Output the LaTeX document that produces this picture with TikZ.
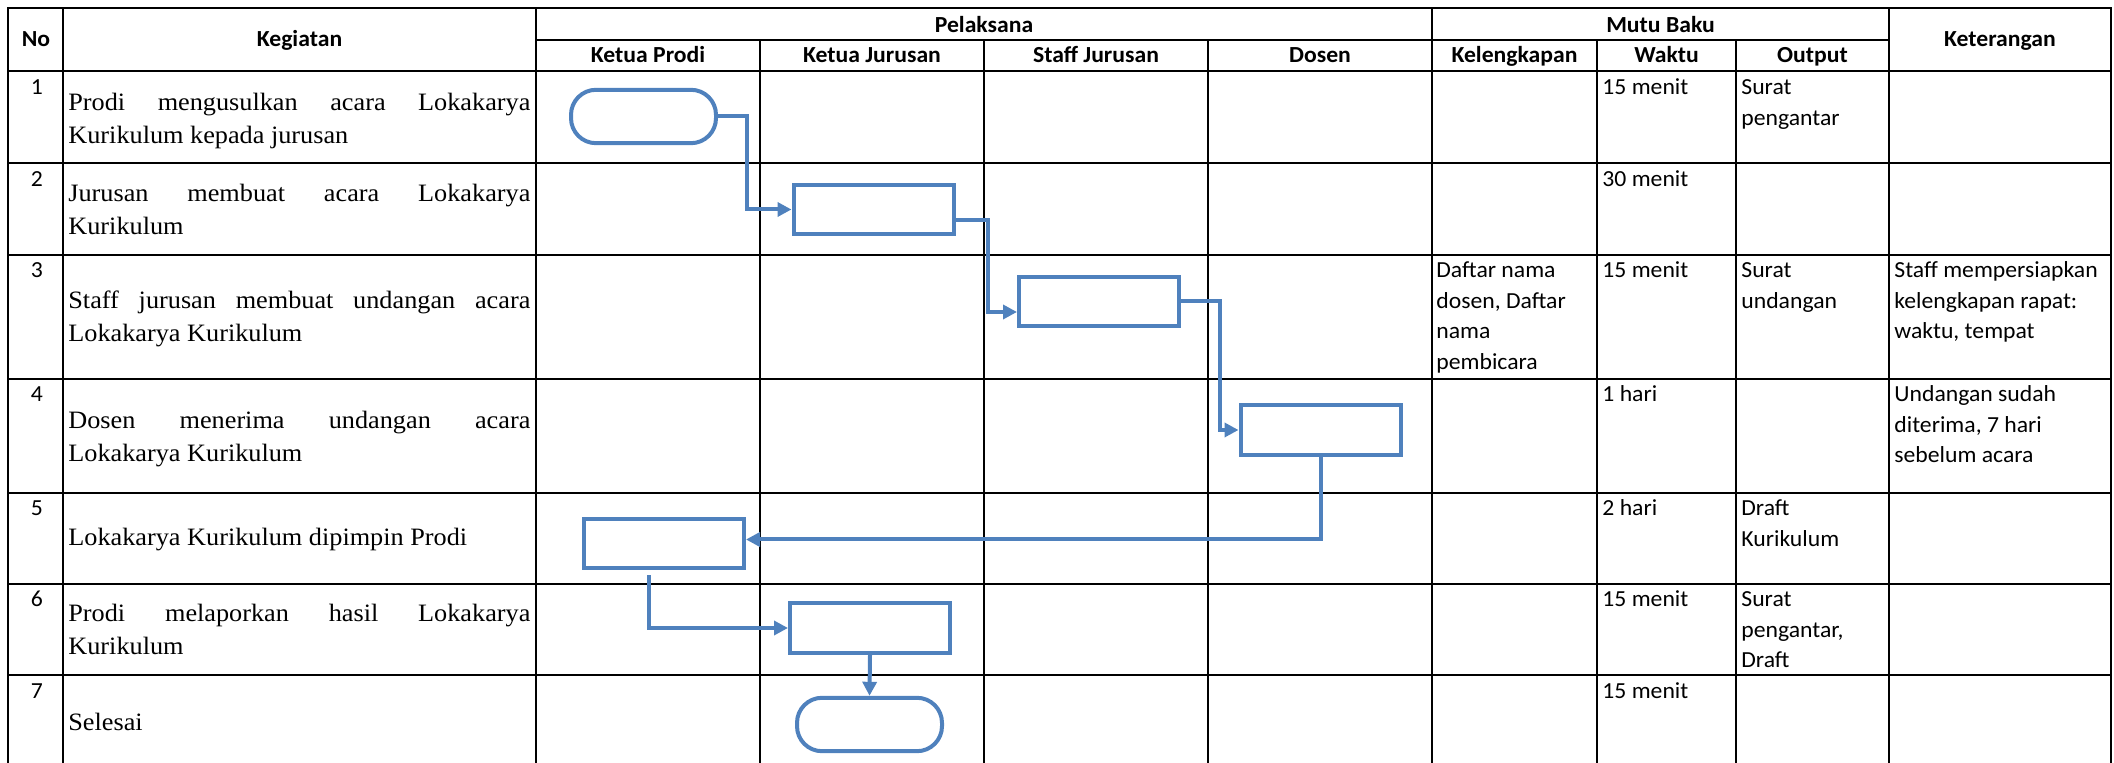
\documentclass[tikz,border=0pt]{standalone}
\usepackage{fontspec}
\setmainfont{Liberation Serif}[FakeStretch=1.05]
\newfontfamily\calib{Carlito}[FakeStretch=1.03]
\usetikzlibrary{arrows.meta}
\definecolor{flowblue}{HTML}{4F81BD}
\newcommand\jline[1]{\hbox to 231pt{#1}}
\newcommand\stk[1]{\vtop{\baselineskip=15.25pt\lineskiplimit=-20pt\halign{##\hfil\cr#1\crcr}}}
\newcommand\ser[1]{\vtop{\baselineskip=16.25pt\lineskiplimit=-20pt #1}}
\begin{document}
\begin{tikzpicture}[x=0.5pt,y=-0.5pt,
  tbl/.style={line width=1.3pt,line cap=rect},
  hd/.style={font=\calib\bfseries\fontsize{11.5}{13}\selectfont,anchor=base,inner sep=0},
  num/.style={font=\calib\fontsize{11.5}{13}\selectfont,anchor=base,inner sep=0},
  cell/.style={font=\calib\fontsize{11.5}{15.25}\selectfont,anchor=base west,inner sep=0},
  kg/.style={font=\fontsize{12.5}{16}\selectfont,anchor=base west,inner sep=0},
  term/.style={draw=flowblue,fill=white,line width=2pt,rounded corners=12.5pt,minimum width=72.5pt,minimum height=26.7pt,inner sep=0},
  proc/.style={draw=flowblue,fill=white,line width=2pt,minimum width=80pt,minimum height=24.7pt,inner sep=0},
  flow/.style={draw=flowblue,line width=2pt,-{Triangle[length=7pt,width=7pt]}}]
\useasboundingbox (0,0) rectangle (2114,763);
% table grid
\draw[tbl] (8,763) -- (8,8) -- (2111,8) -- (2111,763);
\foreach \x in {63,536,1432,1889} \draw[tbl] (\x,8) -- (\x,763);
\foreach \x in {760,984,1208,1597,1736} \draw[tbl] (\x,40) -- (\x,763);
\draw[tbl] (536,40) -- (1889,40);
\foreach \y in {71,163,255,379,493,584,675} \draw[tbl] (8,\y) -- (2111,\y);
% headers
\node[hd] (hno) at (36,47) {No};
\node[hd] (hkeg) at (299.5,47) {Kegiatan};
\node[hd] (hpel) at (984,33) {Pelaksana};
\node[hd] (hkp) at (648,63) {Ketua Prodi};
\node[hd] (hkj) at (872,63) {Ketua Jurusan};
\node[hd] (hsj) at (1096,63) {Staff Jurusan};
\node[hd] (hds) at (1320,63) {Dosen};
\node[hd] (hmb) at (1660.5,33) {Mutu Baku};
\node[hd] (hkl) at (1514.5,63) {Kelengkapan};
\node[hd] (hwk) at (1666.5,63) {Waktu};
\node[hd] (hout) at (1812.5,63) {Output};
\node[hd] (hket) at (2000,47) {Keterangan};
% numbers
\node[num] (n1) at (37,95) {1};
\node[num] (n2) at (37,187) {2};
\node[num] (n3) at (37,278) {3};
\node[num] (n4) at (37,402) {4};
\node[num] (n5) at (37,516) {5};
\node[num] (n6) at (37,607) {6};
\node[num] (n7) at (37,698) {7};
% kegiatan
\node[kg] (k1) at (68,111) {\ser{\jline{Prodi\hfill mengusulkan\hfill acara\hfill Lokakarya}\hbox{Kurikulum kepada jurusan}}};
\node[kg] (k2) at (68,202) {\ser{\jline{Jurusan\hfill membuat\hfill acara\hfill Lokakarya}\hbox{Kurikulum}}};
\node[kg] (k3) at (68,309) {\ser{\jline{Staff\hfill jurusan\hfill membuat\hfill undangan\hfill acara}\hbox{Lokakarya Kurikulum}}};
\node[kg] (k4) at (68,429) {\ser{\jline{Dosen\hfill menerima\hfill undangan\hfill acara}\hbox{Lokakarya Kurikulum}}};
\node[kg] (k5) at (68,546) {Lokakarya Kurikulum dipimpin Prodi};
\node[kg] (k6) at (68,622) {\ser{\jline{Prodi\hfill melaporkan\hfill hasil\hfill Lokakarya}\hbox{Kurikulum}}};
\node[kg] (k7) at (68,730) {Selesai};
% mutu baku / keterangan
\node[cell] (c1w) at (1602,95) {15 menit};
\node[cell] (c1o) at (1741,95) {\stk{Surat\cr pengantar}};
\node[cell] (c2w) at (1602,187) {30 menit};
\node[cell] (c3k) at (1436,278) {\stk{Daftar nama\cr dosen, Daftar\cr nama\cr pembicara}};
\node[cell] (c3w) at (1602,278) {15 menit};
\node[cell] (c3o) at (1741,278) {\stk{Surat\cr undangan}};
\node[cell] (c3t) at (1894,278) {\stk{Staff mempersiapkan\cr kelengkapan rapat:\cr waktu, tempat}};
\node[cell] (c4w) at (1602,402) {1 hari};
\node[cell] (c4t) at (1894,402) {\stk{Undangan sudah\cr diterima, 7 hari\cr sebelum acara}};
\node[cell] (c5w) at (1602,516) {2 hari};
\node[cell] (c5o) at (1741,516) {\stk{Draft\cr Kurikulum}};
\node[cell] (c6w) at (1602,607) {15 menit};
\node[cell] (c6o) at (1741,607) {\stk{Surat\cr pengantar,\cr Draft}};
\node[cell] (c7w) at (1602,698) {15 menit};
% flow shapes
\node[term] (s1) at (643.5,116.5) {};
\node[proc] (b2) at (873.5,209.5) {};
\node[proc] (b3) at (1099,301.5) {};
\node[proc] (b4) at (1320.5,430) {};
\node[proc] (b5) at (664,543.5) {};
\node[proc] (b6) at (870,628) {};
\node[term] (e) at (869.5,724.5) {};
% connectors
\draw[flow] (s1.east) -- ++(29,0) |- (b2.west);
\draw[flow] ([yshift=-5.25pt]b2.east) -- ++(32,0) |- ([yshift=-5.25pt]b3.west);
\draw[flow] (b3.east) -- ++(39,0) |- (b4.west);
\draw[flow] (b4.south) |- ([yshift=2pt]b5.east);
\draw[flow,shorten <=2.5pt] ([xshift=-7.5pt]b5.south) |- (b6.west);
\draw[flow] (b6.south) -- (e.north);
\end{tikzpicture}
\end{document}
